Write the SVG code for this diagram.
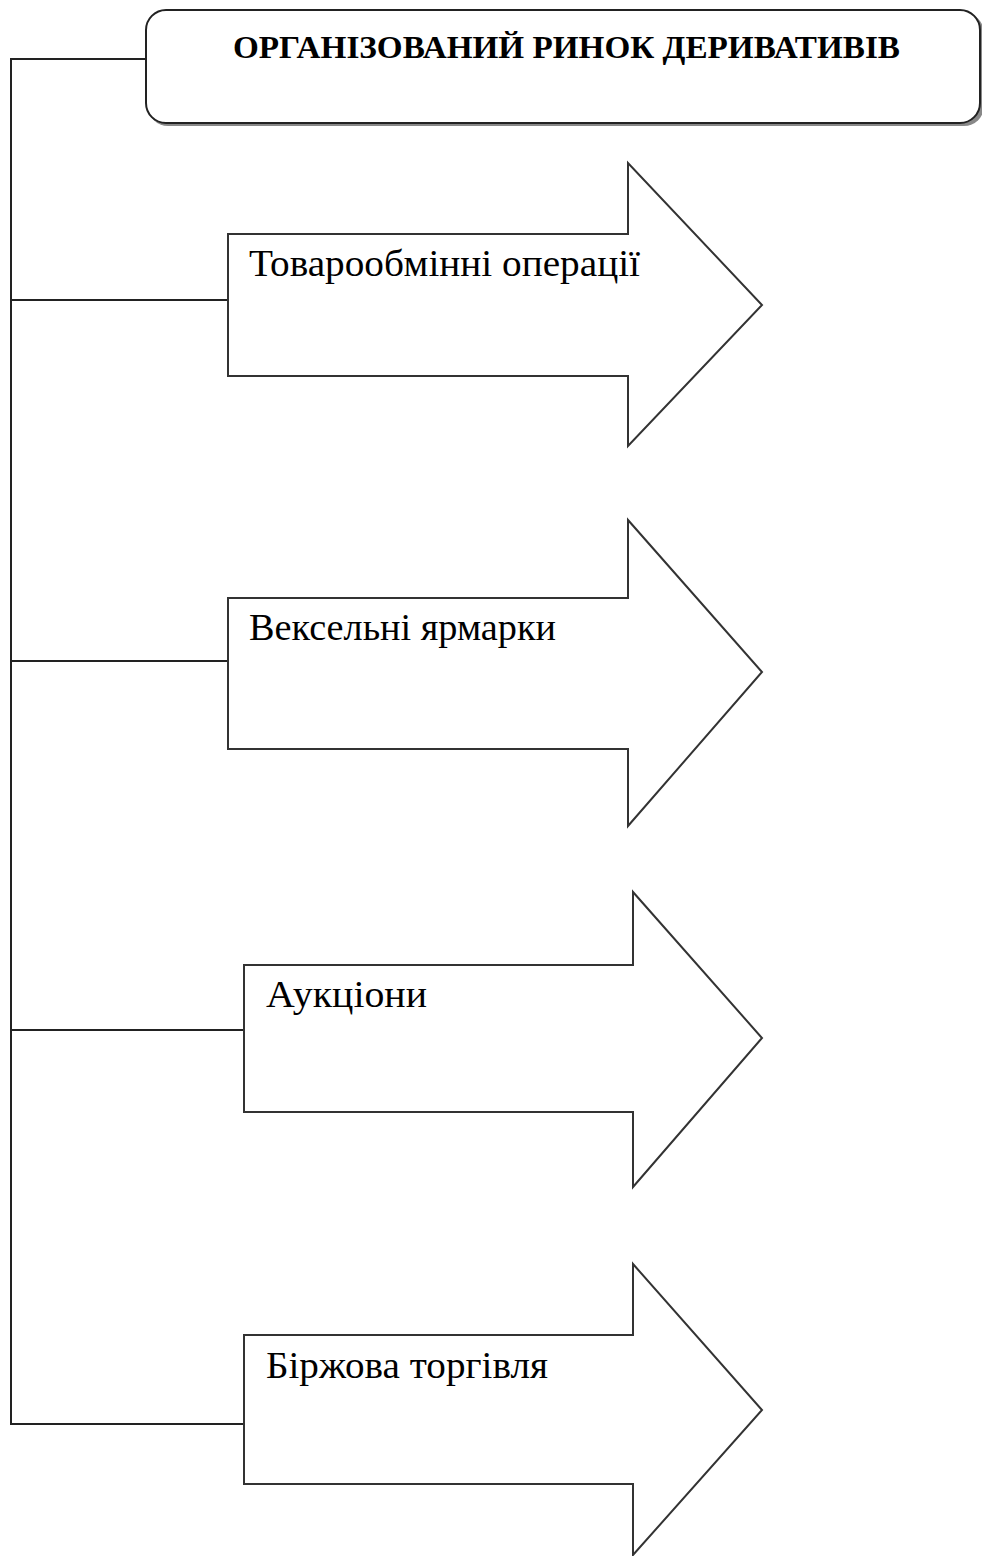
<svg xmlns="http://www.w3.org/2000/svg" width="982" height="1556" viewBox="0 0 982 1556">
<style>
.ln{fill:none;stroke:#222;stroke-width:2}
.ar{fill:#fff;stroke:#333;stroke-width:2;stroke-linejoin:miter}
.box{fill:#fff;stroke:#222;stroke-width:2}
.sh{fill:#888}
.t{font-family:"Liberation Serif","Times New Roman",serif;font-size:38px;fill:#000}
.h{font-family:"Liberation Serif","Times New Roman",serif;font-size:31px;font-weight:bold;fill:#000}
</style>
<rect width="982" height="1556" fill="#fff"/>
<g id="connectors">
<polyline class="ln" points="146,59 11,59 11,1424 244,1424"/>
<line class="ln" x1="11" y1="300" x2="228" y2="300"/>
<line class="ln" x1="11" y1="661" x2="228" y2="661"/>
<line class="ln" x1="11" y1="1030" x2="244" y2="1030"/>
</g>
<g id="title">
<rect class="sh" x="148" y="13" width="836" height="113" rx="20"/>
<rect class="box" x="146" y="10" width="834" height="113" rx="20"/>
<text class="h" x="233" y="58" textLength="667" lengthAdjust="spacingAndGlyphs">ОРГАНІЗОВАНИЙ РИНОК ДЕРИВАТИВІВ</text>
</g>
<g id="arrow1">
<polygon class="ar" points="228,234 628,234 628,163 762,305 628,446 628,376 228,376"/>
<text class="t" x="249" y="276" textLength="391" lengthAdjust="spacingAndGlyphs">Товарообмінні операції</text>
</g>
<g id="arrow2">
<polygon class="ar" points="228,598 628,598 628,520 762,672 628,826 628,749 228,749"/>
<text class="t" x="249" y="640" textLength="307" lengthAdjust="spacingAndGlyphs">Вексельні ярмарки</text>
</g>
<g id="arrow3">
<polygon class="ar" points="244,965 633,965 633,892 762,1038 633,1187 633,1112 244,1112"/>
<text class="t" x="266" y="1007" textLength="161" lengthAdjust="spacingAndGlyphs">Аукціони</text>
</g>
<g id="arrow4">
<polygon class="ar" points="244,1335 633,1335 633,1264 762,1410 633,1555 633,1484 244,1484"/>
<text class="t" x="266" y="1378" textLength="282" lengthAdjust="spacingAndGlyphs">Біржова торгівля</text>
</g>
</svg>
